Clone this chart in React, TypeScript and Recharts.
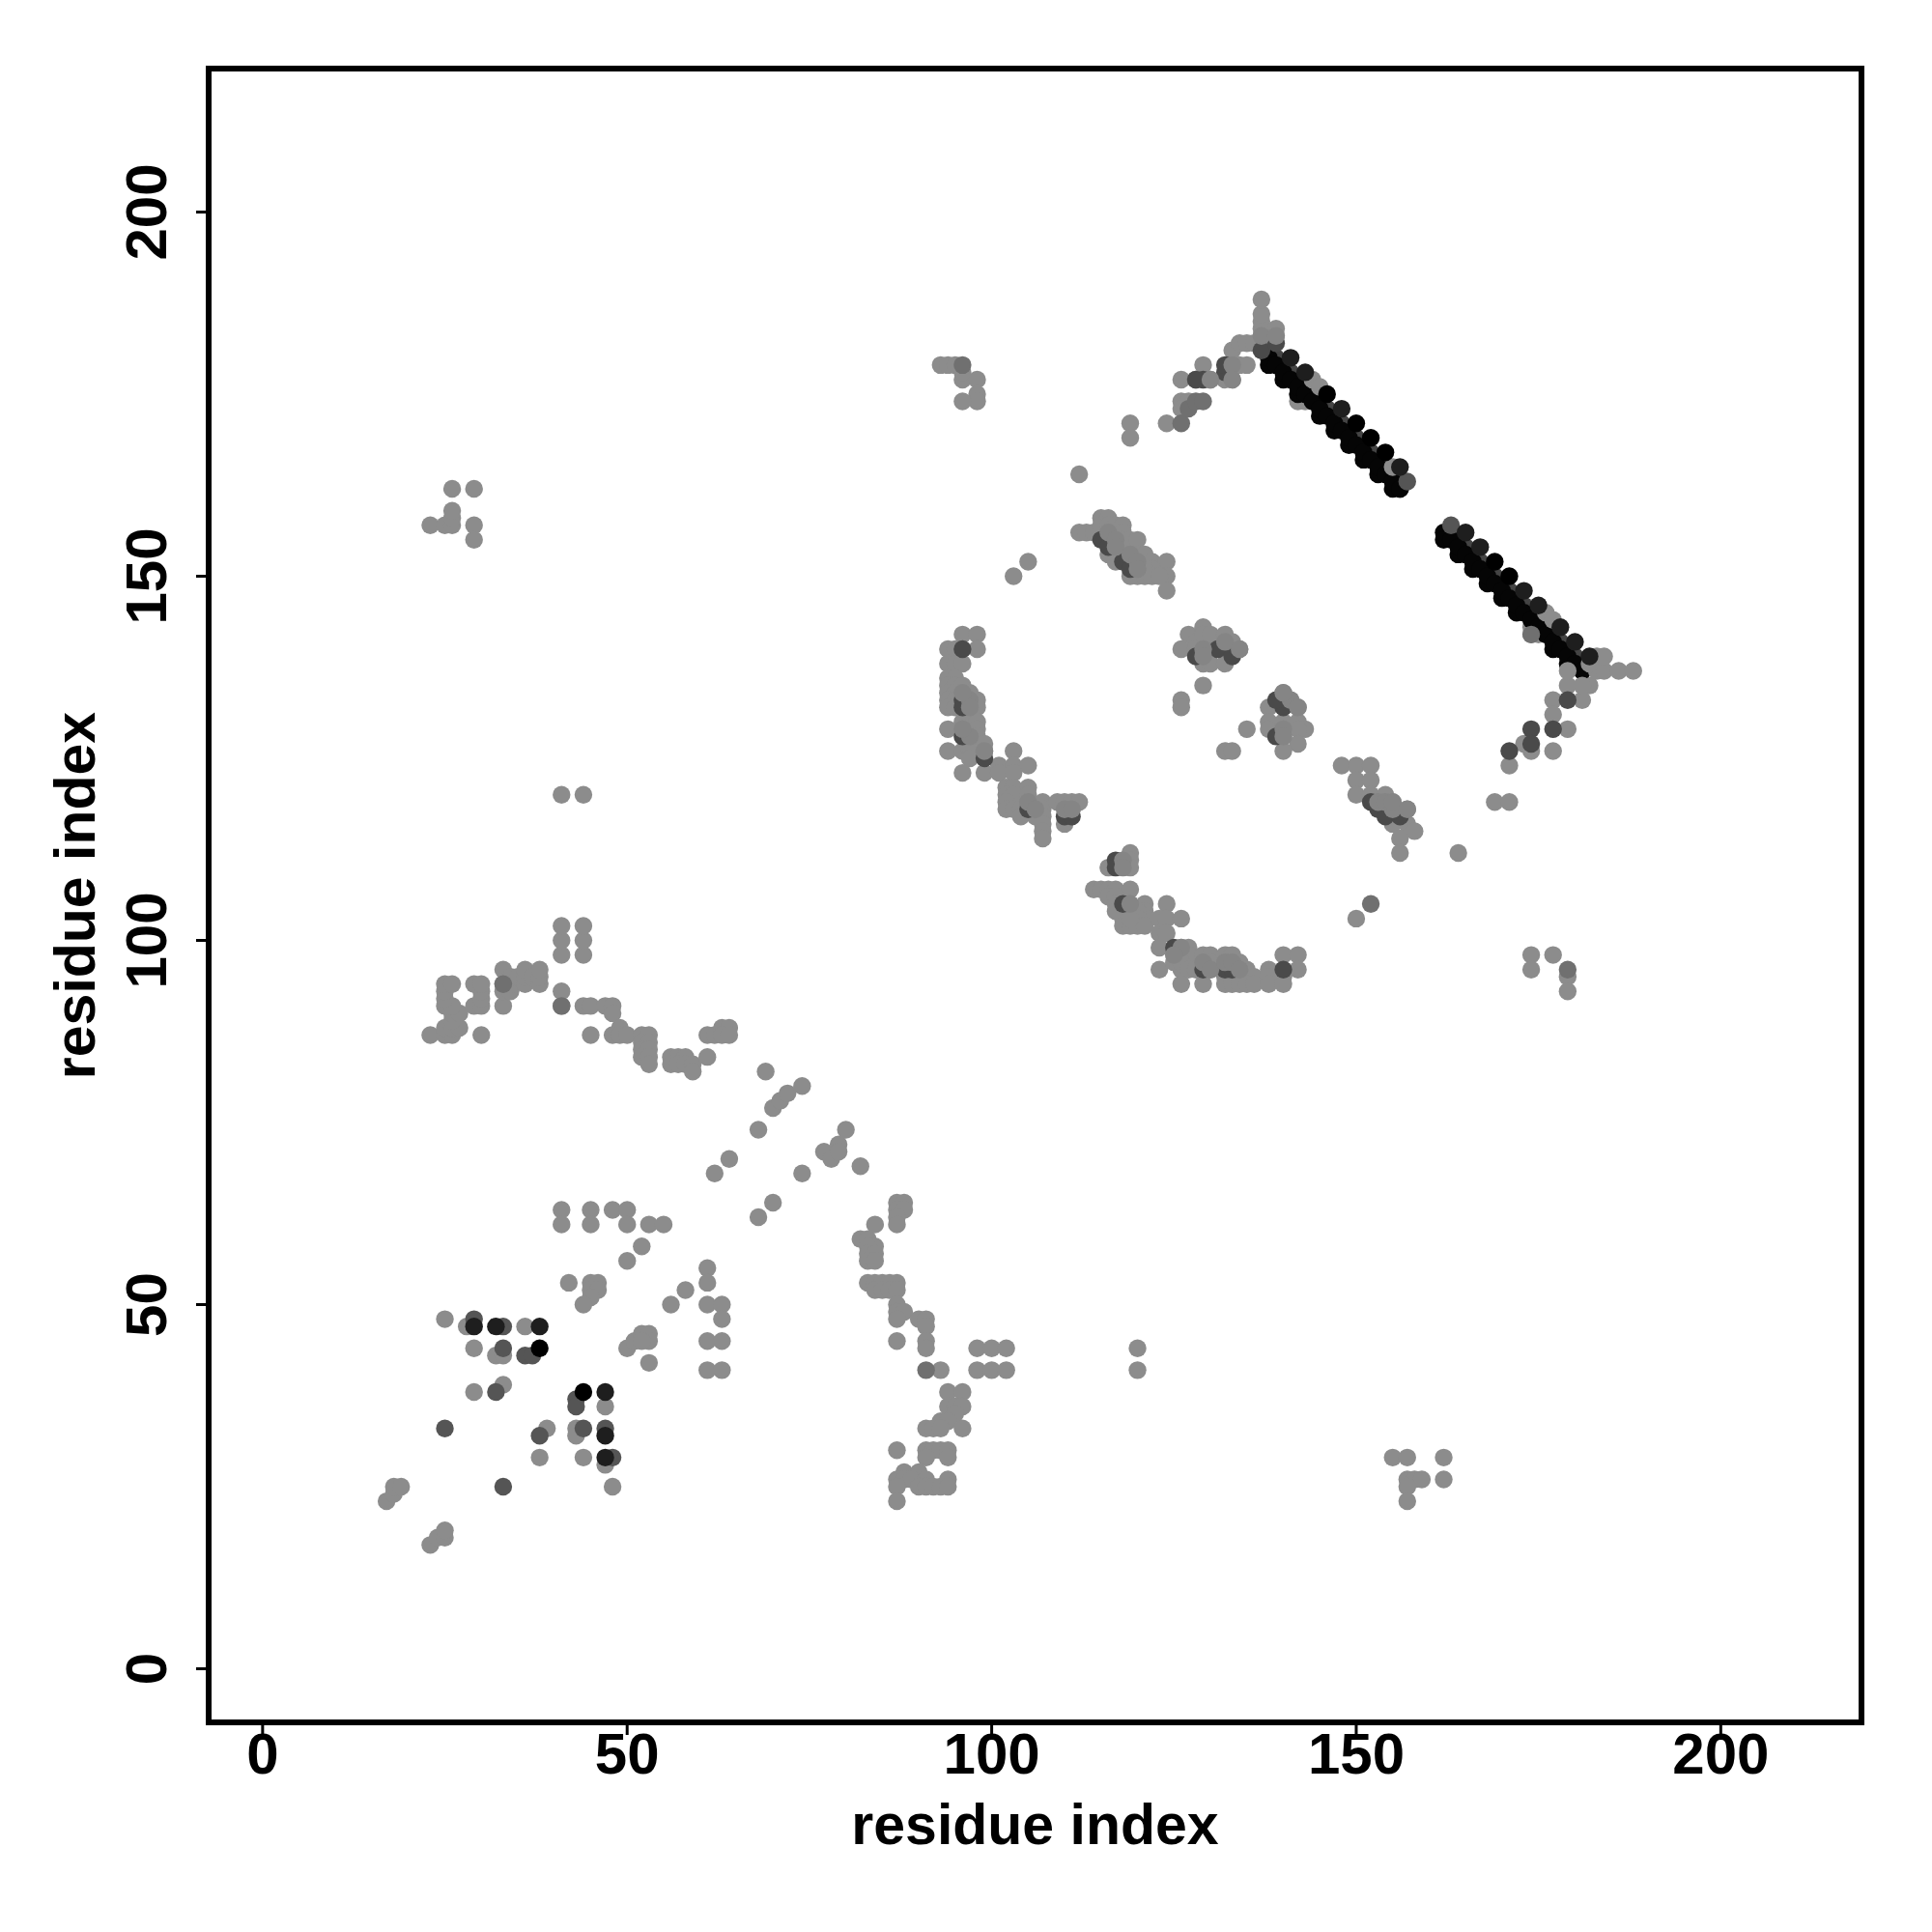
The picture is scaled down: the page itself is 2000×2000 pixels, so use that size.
import React from "react";
import { ScatterChart, Scatter, XAxis, YAxis, ReferenceArea } from "recharts";

const axisTicks = [0, 50, 100, 150, 200];

// drawn first, sits under the long dark strands
const underGray = [
  [142, 174], [143, 174], [142, 175], [143, 175], [174, 142], [175, 142], [176, 142], [174, 143], [175, 143],
  [181, 137], [182, 135], [181, 133],
];

const strandDark = [
  [139, 180], [140, 179], [141, 178], [142, 177], [143, 176], [144, 175], [145, 174], [146, 173], [147, 172], [148, 171],
  [149, 170], [150, 169], [151, 168], [152, 167], [153, 166], [154, 165], [155, 164], [156, 163],
  [164, 155], [165, 154], [166, 153], [167, 152], [168, 151], [169, 150], [170, 149], [171, 148], [172, 147], [173, 146],
  [174, 145], [175, 144], [176, 143], [177, 142], [178, 141], [179, 140], [180, 139], [181, 138],
];

const strandBlack = [
  [138, 179], [140, 177], [142, 175], [145, 172], [147, 170], [149, 168], [151, 166], [153, 164], [155, 162], [156, 162],
  [138, 180], [139, 179], [140, 178], [141, 177], [142, 176], [143, 175], [144, 174], [145, 173], [146, 172], [147, 171],
  [148, 170], [149, 169], [150, 168], [151, 167], [152, 166], [153, 165], [154, 164], [155, 163], [156, 162],
  [162, 156], [162, 155], [164, 153], [166, 151], [168, 149], [170, 147], [172, 145], [177, 140], [179, 138],
  [163, 155], [164, 154], [165, 153], [166, 152], [167, 151], [168, 150], [169, 149], [170, 148], [171, 147], [172, 146],
  [173, 145], [174, 144], [175, 143], [176, 142], [177, 141], [178, 140], [179, 139], [180, 138], [181, 137],
];

const gray = [
  // lower left
  [17, 23], [18, 24], [18, 25], [19, 25], [23, 17], [24, 18], [25, 18], [25, 19],
  [25, 48], [28, 47], [36, 47], [29, 44], [32, 43], [33, 43], [29, 38], [33, 39],
  [47, 36], [39, 33], [43, 33], [43, 32], [38, 29], [44, 29], [47, 28], [48, 25],
  [41, 63], [41, 61], [45, 63], [45, 61], [48, 63], [50, 63], [50, 61], [53, 61], [55, 61],
  [52, 58], [50, 56], [42, 53], [45, 53], [46, 53], [45, 52], [46, 52], [45, 51], [44, 50],
  [56, 50], [58, 52], [61, 55], [61, 53], [61, 50], [63, 50], [63, 48], [61, 45], [63, 45], [61, 41], [63, 41],
  [50, 44], [51, 45], [52, 46], [53, 46], [53, 45], [52, 45], [53, 42],
  [68, 62], [70, 64], [74, 68], [62, 68], [64, 70], [68, 74], [69, 82], [70, 77], [71, 78], [72, 79], [74, 80],
  [82, 69], [77, 71], [78, 70], [79, 72], [79, 71], [80, 74],
  [87, 64], [88, 64], [87, 63], [88, 63], [87, 62], [87, 61], [84, 61], [82, 59], [83, 59], [84, 58], [83, 58],
  [83, 57], [84, 57], [83, 56], [84, 56], [83, 53], [84, 53], [85, 53], [86, 53], [87, 53], [84, 52], [85, 52], [86, 52], [87, 52],
  [87, 50], [87, 49], [88, 49], [87, 48], [90, 48], [91, 48], [91, 47], [91, 45], [91, 44], [87, 45],
  [93, 41], [98, 44], [100, 44], [102, 44], [98, 41], [100, 41], [102, 41],
  [94, 38], [96, 38], [94, 36], [95, 36], [96, 36], [95, 35], [93, 34], [94, 34], [91, 33], [92, 33], [93, 33], [96, 33],
  [87, 30], [91, 30], [92, 30], [93, 30], [94, 30], [91, 29], [94, 29], [88, 27], [90, 27], [87, 26], [88, 26], [89, 26], [91, 26], [94, 26],
  [87, 25], [90, 25], [91, 25], [92, 25], [93, 25], [94, 25], [87, 23],
  [120, 44], [120, 41], [155, 29], [157, 29], [162, 29], [162, 26], [157, 26], [158, 26], [159, 26], [157, 25], [157, 23],
  // middle band
  [23, 87], [25, 87], [26, 87], [25, 88], [26, 88], [27, 88], [26, 89], [26, 90], [27, 90], [25, 91], [26, 91], [25, 92], [25, 93], [25, 94], [26, 94],
  [30, 87], [29, 91], [30, 91], [30, 92], [30, 93], [29, 94], [30, 94], [33, 91], [33, 93], [33, 94], [33, 96], [34, 93], [34, 94], [34, 95],
  [35, 95], [36, 94], [36, 95], [36, 96], [37, 95], [38, 94], [38, 95], [38, 96],
  [41, 93], [41, 91], [41, 98], [41, 100], [41, 102], [44, 98], [44, 100], [44, 102], [41, 120], [44, 120],
  [44, 91], [45, 91], [47, 91], [48, 91], [48, 90], [49, 88], [45, 87], [48, 87], [49, 87], [50, 87], [52, 87], [53, 87], [52, 86], [53, 86],
  [52, 85], [53, 85], [52, 84], [53, 84], [53, 83], [56, 84], [57, 84], [58, 84], [56, 83], [57, 83], [58, 83], [59, 83], [59, 82], [61, 84],
  [61, 87], [62, 87], [63, 88], [64, 88], [63, 87], [64, 87],
  [23, 157], [25, 157], [26, 157], [26, 158], [26, 159], [26, 162], [29, 162], [29, 157], [29, 155],
  // crescent, left side
  [93, 179], [94, 179], [95, 179], [96, 177], [96, 178], [98, 177], [98, 175], [98, 174], [96, 174], [119, 171], [119, 169], [112, 164], [103, 150],
  [96, 142], [98, 142], [94, 140], [95, 140], [98, 140], [94, 138], [95, 138], [96, 138],
  [94, 136], [95, 136], [94, 135], [95, 135], [96, 135], [94, 134], [95, 134], [96, 134], [97, 134],
  [94, 133], [95, 133], [97, 133], [98, 133], [94, 132], [95, 132], [97, 132], [98, 132],
  [96, 130], [97, 130], [98, 130], [96, 129], [98, 129], [94, 129], [97, 128], [98, 128],
  [94, 126], [96, 126], [97, 126], [97, 125], [99, 127], [99, 126], [96, 123], [99, 123], [101, 124], [101, 123],
  [103, 126], [103, 124], [105, 124], [103, 123], [102, 121], [103, 121], [105, 121], [102, 120], [103, 120], [105, 120],
  [102, 119], [102, 118], [103, 118], [104, 118], [104, 117], [105, 119], [106, 118], [106, 117],
  [107, 119], [107, 118], [107, 117], [107, 116], [107, 115], [107, 114],
  [109, 119], [110, 119], [111, 119], [112, 119], [111, 118], [110, 116],
  // crescent, bottom
  [114, 107], [115, 107], [116, 107], [117, 107], [119, 107], [116, 106], [117, 106], [117, 105], [117, 104], [116, 110],
  [118, 111], [119, 112], [119, 111], [119, 110], [121, 105], [121, 104], [121, 103], [120, 104], [120, 103],
  [118, 103], [118, 102], [119, 102], [120, 102], [121, 102], [119, 103],
  [124, 105], [123, 103], [124, 103], [126, 103], [123, 101], [124, 101], [123, 99], [126, 99], [127, 99], [126, 98], [127, 98], [125, 98],
  [123, 96], [126, 96], [125, 97], [126, 97], [127, 96], [126, 94], [129, 94], [129, 98], [130, 98], [129, 97], [130, 97], [130, 96], [128, 96],
  [132, 98], [133, 98], [132, 97], [133, 97], [134, 97], [135, 96], [134, 96], [132, 95], [133, 95], [134, 95], [135, 95], [136, 95],
  [132, 94], [133, 94], [134, 94], [135, 94], [136, 94], [138, 96], [138, 95], [138, 94], [140, 95], [140, 94], [140, 98], [142, 98], [142, 96],
  [174, 98], [177, 98], [174, 96], [179, 95], [179, 93],
  // upper stretch
  [112, 156], [113, 156], [114, 156], [115, 158], [116, 158], [115, 157], [116, 157], [117, 157], [118, 157], [116, 156], [117, 156], [118, 156],
  [118, 155], [119, 155], [120, 155], [116, 155], [117, 154], [116, 153], [117, 153], [119, 153], [120, 153], [121, 153], [122, 152], [124, 152],
  [117, 152], [119, 152], [122, 151], [121, 151], [124, 150], [119, 150], [120, 150], [121, 150], [122, 150], [123, 150], [124, 148], [105, 152],
  [126, 140], [127, 142], [128, 141], [129, 143], [129, 142], [129, 138], [130, 142], [130, 140], [130, 138], [129, 135], [126, 133], [126, 132],
  [132, 142], [133, 141], [134, 140], [132, 138], [129, 140], [128, 140],
  [140, 134], [138, 132], [141, 133], [142, 132], [138, 130], [138, 129], [140, 130], [140, 129], [142, 130], [143, 129], [142, 129], [140, 128], [142, 127], [140, 126],
  [135, 129], [132, 126], [133, 126],
  [148, 124], [150, 124], [152, 124], [150, 122], [152, 122], [150, 120], [152, 120], [154, 120], [153, 119], [155, 119], [155, 118], [157, 118],
  [155, 116], [157, 116], [158, 115], [156, 114], [156, 112],
  [179, 135], [177, 133], [177, 131], [179, 129], [173, 127], [174, 126], [177, 126], [171, 124], [169, 119], [171, 119], [164, 112], [150, 103], [181, 135],
  [179, 137], [183, 137], [184, 137], [186, 137], [188, 137], [183, 139], [184, 139], [182, 138],
  [176, 145], [177, 144],
  [124, 171], [126, 174], [127, 174], [126, 173], [130, 177], [133, 177], [132, 177], [133, 179], [134, 179], [135, 179], [129, 179],
  [133, 181], [134, 182], [135, 182], [136, 182], [137, 183], [138, 183], [137, 184], [137, 185], [137, 186], [137, 188], [139, 183], [139, 184], [126, 177], [128, 177],
  [144, 177], [145, 176], [155, 165],
];

// dark contacts inside the gray clusters
const clusterDark = [
  [96, 140], [96, 133], [96, 132], [96, 128], [99, 125], [105, 118], [110, 117], [111, 117],
  [117, 111], [117, 110], [118, 105], [125, 99], [129, 96], [132, 96], [133, 96], [140, 96],
  [131, 140], [133, 139], [128, 139], [140, 132], [139, 133], [139, 128],
  [115, 155], [116, 154], [118, 152], [119, 151],
  [152, 119], [153, 118], [154, 117], [156, 117],
  [129, 177], [132, 178], [128, 177], [132, 179], [137, 181], [139, 182],
  [174, 129], [174, 127], [177, 129], [179, 133], [171, 126],
];

// gray neighbours that cover most of the dark contacts, leaving crescents
const grayOver = [
  [97, 133], [97, 132], [96, 134], [97, 128], [96, 129], [99, 126], [105, 119], [106, 118], [110, 118], [111, 118],
  [118, 111], [118, 110], [119, 105], [126, 99], [125, 98], [129, 97], [130, 96], [132, 97], [133, 97], [134, 96],
  [132, 141], [134, 140], [129, 140], [129, 139], [141, 133], [140, 134], [142, 132], [140, 129], [140, 128],
  [116, 156], [117, 155], [117, 154], [119, 153], [120, 152], [120, 151],
  [153, 119], [154, 119], [155, 118], [155, 119], [157, 118], [130, 177], [133, 179], [133, 177], [137, 183], [139, 183],
];

const midGray = [
  [96, 179], [41, 91], [33, 94], [91, 41], [126, 171], [127, 173], [128, 174], [129, 174], [152, 105],
  [174, 142], [179, 96],
];

const darkGray = [
  [29, 48], [33, 47], [33, 44], [36, 43], [37, 43], [32, 38], [43, 37], [43, 36], [38, 32], [44, 33], [47, 33], [48, 29], [25, 33], [33, 25],
  [157, 163], [163, 157],
];

const nearBlack = [
  [29, 47], [32, 47], [38, 47], [47, 38], [47, 32], [47, 29],
  [141, 180], [143, 178], [148, 173], [156, 165], [165, 156], [167, 154], [173, 148], [175, 146], [178, 143], [180, 141], [182, 139],
];

const black = [
  [38, 44], [44, 38], [146, 175], [150, 171], [152, 169], [154, 167], [169, 152], [171, 150],
];

const toPoints = (list: number[][]) => list.map(([x, y]) => ({ x, y }));

const labelFont = { fontFamily: "Liberation Sans", fontWeight: 700, fontSize: 59, fill: "#000" };

function XTick({ x, y, payload }: any) {
  return (
    <text x={x} y={y + 38} textAnchor="middle" {...labelFont} fontSize={60}>
      {payload.value}
    </text>
  );
}

function YTick({ x, y, payload }: any) {
  return (
    <text x={0} y={0} transform={`translate(${x - 29} ${y}) rotate(-90)`} textAnchor="middle" {...labelFont} fontSize={60}>
      {payload.value}
    </text>
  );
}

function Dot({ cx, cy, fill }: any) {
  return <circle cx={cx} cy={cy} r={9.2} fill={fill} />;
}

export default function App() {
  return (
    <div style={{ position: "absolute", left: 0, top: 0, background: "#fff" }}>
      <ScatterChart width={2000} height={2000} margin={{ top: 71, right: 73, bottom: 0, left: 0 }}>
        <XAxis
          type="number"
          dataKey="x"
          domain={[-7.4, 219.3]}
          ticks={axisTicks}
          allowDataOverflow
          height={217}
          axisLine={false}
          tickSize={13}
          tickLine={{ stroke: "#000", strokeWidth: 3 }}
          tick={<XTick />}
          label={{ value: "residue index", position: "insideBottom", offset: 91, ...labelFont }}
        />
        <YAxis
          type="number"
          dataKey="y"
          domain={[-7.36, 219.7]}
          ticks={axisTicks}
          allowDataOverflow
          width={216}
          axisLine={false}
          tickSize={13}
          tickLine={{ stroke: "#000", strokeWidth: 3 }}
          tick={<YTick />}
          label={{ value: "residue index", angle: -90, position: "insideLeft", offset: 77, style: { textAnchor: "middle" }, ...labelFont }}
        />
        <Scatter data={toPoints(underGray)} fill="#8c8c8c" shape={<Dot />} isAnimationActive={false} />
        <Scatter data={toPoints(strandDark)} fill="#444444" shape={<Dot />} isAnimationActive={false} />
        <Scatter data={toPoints(strandBlack)} fill="#050505" shape={<Dot />} isAnimationActive={false} />
        <Scatter data={toPoints(gray)} fill="#8c8c8c" shape={<Dot />} isAnimationActive={false} />
        <Scatter data={toPoints(clusterDark)} fill="#4a4a4a" shape={<Dot />} isAnimationActive={false} />
        <Scatter data={toPoints(grayOver)} fill="#858585" shape={<Dot />} isAnimationActive={false} />
        <Scatter data={toPoints(midGray)} fill="#707070" shape={<Dot />} isAnimationActive={false} />
        <Scatter data={toPoints(darkGray)} fill="#555555" shape={<Dot />} isAnimationActive={false} />
        <Scatter data={toPoints(nearBlack)} fill="#1e1e1e" shape={<Dot />} isAnimationActive={false} />
        <Scatter data={toPoints(black)} fill="#000000" shape={<Dot />} isAnimationActive={false} />
        <ReferenceArea x1={-7.4} x2={219.3} y1={-7.36} y2={219.7} fill="none" stroke="#000" strokeWidth={6} ifOverflow="visible" />
      </ScatterChart>
    </div>
  );
}
